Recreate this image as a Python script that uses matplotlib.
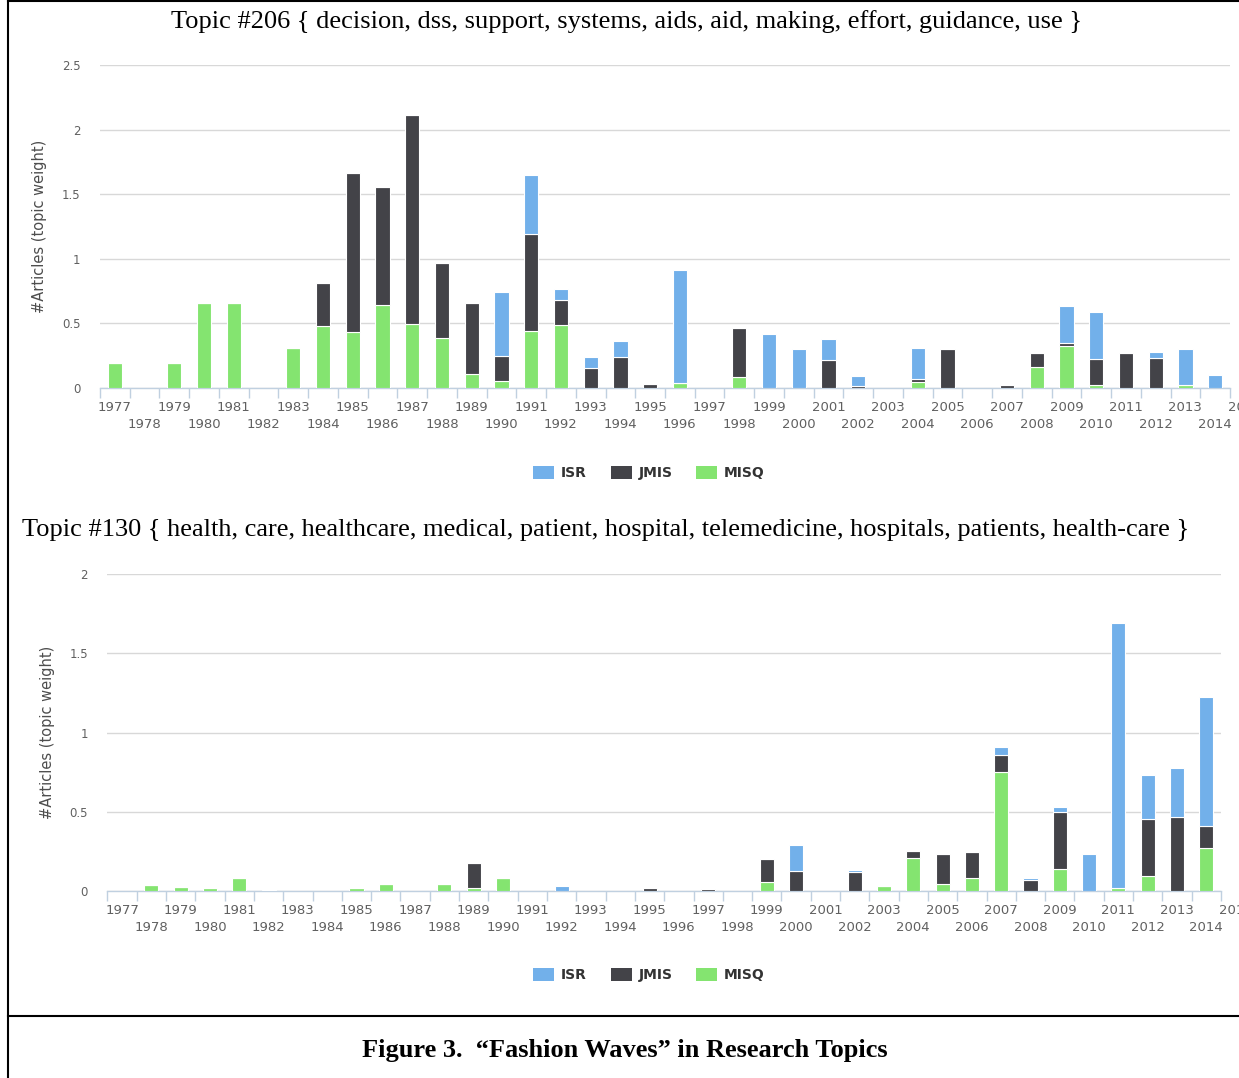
import matplotlib
matplotlib.use("Agg")
import matplotlib.pyplot as plt
from matplotlib.patches import Patch
from matplotlib.lines import Line2D
import matplotlib.transforms as mtransforms
import numpy as np

years = list(range(1977, 2015))

# Topic #206
t206_misq = [0.19, 0, 0.19, 0.657, 0.657, 0, 0.31, 0.48, 0.435, 0.644, 0.495, 0.39, 0.108,
             0.057, 0.443, 0.487, 0, 0, 0, 0.036, 0, 0.088, 0, 0, 0, 0, 0, 0.044, 0, 0,
             0, 0.16, 0.322, 0.026, 0, 0, 0.023, 0]
t206_jmis = [0, 0, 0, 0, 0, 0, 0, 0.33, 1.23, 0.91, 1.615, 0.58, 0.55,
             0.193, 0.75, 0.196, 0.152, 0.242, 0.031, 0, 0, 0.378, 0, 0, 0.214, 0.013, 0, 0.023, 0.30, 0,
             0.025, 0.11, 0.028, 0.196, 0.27, 0.235, 0, 0]
t206_isr = [0, 0, 0, 0, 0, 0, 0, 0, 0, 0, 0, 0, 0,
            0.495, 0.454, 0.082, 0.088, 0.12, 0, 0.876, 0, 0, 0.418, 0.30, 0.165, 0.08, 0, 0.245, 0, 0,
            0, 0, 0.287, 0.363, 0, 0.046, 0.276, 0.10]

# Topic #130
t130_misq = [0, 0.036, 0.027, 0.019, 0.082, 0.008, 0, 0, 0.019, 0.042, 0, 0.042, 0.021,
             0.084, 0, 0, 0, 0, 0, 0, 0, 0, 0.059, 0, 0, 0, 0.029, 0.206, 0.046, 0.082,
             0.749, 0, 0.137, 0, 0.02, 0.097, 0, 0.269]
t130_jmis = [0, 0, 0, 0, 0, 0, 0, 0, 0, 0, 0, 0, 0.158,
             0, 0, 0, 0, 0, 0.021, 0, 0.013, 0, 0.145, 0.124, 0, 0.118, 0, 0.046, 0.19, 0.162,
             0.109, 0.069, 0.363, 0, 0, 0.357, 0.467, 0.141]
t130_isr = [0, 0, 0, 0, 0, 0, 0, 0, 0, 0, 0, 0, 0,
            0, 0, 0.029, 0, 0, 0, 0, 0, 0, 0, 0.166, 0, 0.012, 0, 0, 0, 0,
            0.048, 0.015, 0.03, 0.236, 1.673, 0.276, 0.309, 0.812]

series_names = ["ISR", "JMIS", "MISQ"]
colors = {"ISR": "#72b0ea", "JMIS": "#434348", "MISQ": "#84e470"}

title_top = "Topic #206 { decision, dss, support, systems, aids, aid, making, effort, guidance, use }"
title_bot = ("Topic #130 { health, care, healthcare, medical, patient, hospital, telemedicine, "
             "hospitals, patients, health-care }")
caption = "Figure 3.  \u201cFashion Waves\u201d in Research Topics"

W, H = 1239, 1078
fig = plt.figure(figsize=(W / 100, H / 100), dpi=100)
fig.patch.set_facecolor("white")


def px_axes(x0, x1, ytop, ybot):
    return fig.add_axes([x0 / W, 1 - ybot / H, (x1 - x0) / W, (ybot - ytop) / H])


def draw(ax, misq, jmis, isr, ymax, yticks, ylabels):
    n = len(years)
    x = np.arange(n)
    misq = np.array(misq); jmis = np.array(jmis); isr = np.array(isr)
    bw = 0.48
    kw = dict(width=bw, edgecolor="white", linewidth=0.8, zorder=3)
    ax.bar(x, misq, color=colors["MISQ"], **kw)
    ax.bar(x, jmis, bottom=misq, color=colors["JMIS"], **kw)
    ax.bar(x, isr, bottom=misq + jmis, color=colors["ISR"], **kw)
    ax.set_xlim(-0.5, n - 0.5)
    ax.set_ylim(0, ymax)
    for s in ["top", "right", "left"]:
        ax.spines[s].set_visible(False)
    ax.spines["bottom"].set_color("#c0d0e0")
    ax.spines["bottom"].set_linewidth(1.0)
    ax.set_yticks(yticks)
    ax.set_yticklabels(ylabels)
    ax.yaxis.grid(True, color="#d8d8d8", linewidth=1.0, zorder=0)
    ax.set_axisbelow(True)
    ax.tick_params(axis="y", length=0, pad=14, labelsize=8.5, labelcolor="#606060")

    # staggered year labels: odd years on the first row, even years on the second row
    ax.set_xticks(x[0::2])
    ax.set_xticklabels([str(years[i]) for i in x[0::2]])
    ax.set_xticks(x[1::2], minor=True)
    ax.set_xticklabels([str(years[i]) for i in x[1::2]], minor=True)
    ax.tick_params(axis="x", which="major", length=0, pad=9.5, labelsize=9.5, labelcolor="#606060")
    ax.tick_params(axis="x", which="minor", length=0, pad=21.5, labelsize=9.5, labelcolor="#606060")

    # category boundary tick marks
    sec = ax.secondary_xaxis("bottom")
    sec.set_xticks(np.arange(-0.5, n, 1.0))
    sec.set_xticklabels([])
    sec.tick_params(axis="x", length=7, width=1, color="#c0d0e0")
    sec.spines["bottom"].set_visible(False)

    # partially visible next label (cut off at the right edge, as in the original)
    off = mtransforms.ScaledTranslation(0, -9.5 / 72, fig.dpi_scale_trans)
    ax.text(n, 0, "2015", transform=ax.get_xaxis_transform() + off,
            ha="center", va="top", fontsize=9.5, color="#606060", clip_on=False)
    ax.set_ylabel("#Articles (topic weight)", fontsize=10.5, color="#4d4d4d")
    ax.yaxis.set_label_coords(-0.047, 0.5)


ax1 = px_axes(100, 1230, 65, 388)
draw(ax1, t206_misq, t206_jmis, t206_isr, 2.5, [0, 0.5, 1, 1.5, 2, 2.5],
     ["0", "0.5", "1", "1.5", "2", "2.5"])

ax2 = px_axes(107.4, 1221, 574, 891)
draw(ax2, t130_misq, t130_jmis, t130_isr, 2.0, [0, 0.5, 1, 1.5, 2],
     ["0", "0.5", "1", "1.5", "2"])

serif = ["Liberation Serif", "DejaVu Serif"]
fig.text(627 / W, 1 - 22 / H, title_top, family=serif, fontsize=19, ha="center", va="center")
fig.text(22 / W, 1 - 530 / H, title_bot, family=serif, fontsize=19, ha="left", va="center")
fig.text(625 / W, 1 - 1050 / H, caption, family=serif, fontsize=19, fontweight="bold",
         ha="center", va="center")

handles = [Patch(facecolor=colors[n], edgecolor="none") for n in series_names]
for ycen in (473, 975):
    fig.legend(handles, series_names, loc="center", bbox_to_anchor=(649 / W, 1 - ycen / H),
               ncol=3, frameon=False, handlelength=1.5, handleheight=1.1, handletextpad=0.5,
               columnspacing=1.7, prop={"weight": "bold", "size": 10}, labelcolor="#333333")

# frame lines
fig.add_artist(Line2D([8 / W, 8 / W], [0, 1], transform=fig.transFigure, color="black", lw=1.5))
fig.add_artist(Line2D([8 / W, 1], [1 - 1 / H, 1 - 1 / H], transform=fig.transFigure,
                      color="black", lw=1.5))
fig.add_artist(Line2D([8 / W, 1], [1 - 1016 / H, 1 - 1016 / H], transform=fig.transFigure,
                      color="black", lw=1.5))

fig.savefig("out.png", dpi=100, facecolor="white")
